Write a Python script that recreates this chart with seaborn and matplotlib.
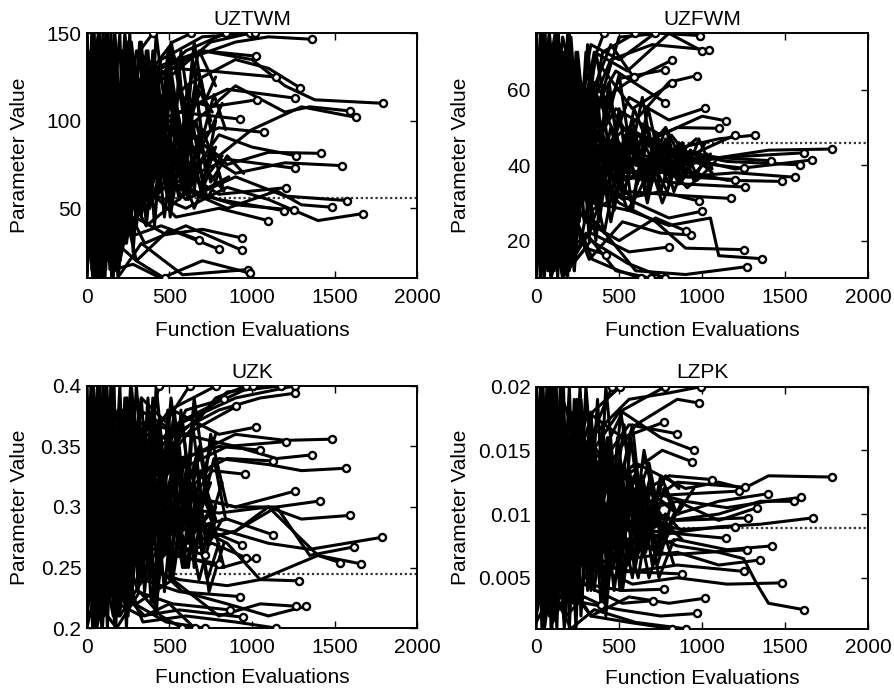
import numpy as np
import pandas as pd
import matplotlib
matplotlib.use("Agg")
import matplotlib.pyplot as plt
import seaborn as sns

# Trajectoires : une liste de x et une liste de y par trajectoire
# (les premières ont leur point final visible ; les suivantes remplissent la masse noire)
uztwm_x = [
    [0, 60, 140, 230, 320, 400], [0, 80, 170, 260, 400, 520, 632], [0, 50, 150, 240, 380, 600, 840],
    [0, 90, 180, 300, 500, 750, 986], [0, 70, 160, 280, 450, 700, 1016],
    [0, 100, 210, 350, 600, 900, 1100, 1364], [0, 60, 150, 270, 450, 700, 1022],
    [0, 80, 190, 320, 520, 800, 1143], [0, 110, 220, 360, 600, 900, 1100, 1289],
    [0, 90, 200, 340, 560, 850, 1258], [0, 70, 180, 300, 500, 750, 1030],
    [0, 100, 230, 400, 700, 1000, 1200, 1380, 1794], [0, 80, 200, 350, 600, 900, 1200, 1350, 1596],
    [0, 60, 170, 300, 500, 800, 1000, 1300, 1628], [0, 90, 200, 330, 550, 925],
    [0, 50, 160, 300, 500, 800, 1073], [0, 100, 210, 360, 600, 850, 1100, 1416],
    [0, 70, 180, 320, 560, 800, 1000, 1269], [0, 110, 230, 380, 650, 900, 1200, 1545],
    [0, 80, 190, 320, 550, 850, 1258], [0, 60, 170, 310, 520, 800, 1208],
    [0, 90, 200, 340, 600, 900, 1200, 1578], [0, 70, 180, 330, 560, 850, 1150, 1300, 1485],
    [0, 100, 220, 360, 620, 900, 1254], [0, 50, 160, 300, 500, 800, 1192],
    [0, 80, 210, 350, 600, 850, 1100, 1400, 1673], [0, 90, 190, 330, 540, 800, 1097],
    [0, 60, 170, 290, 480, 700, 941], [0, 100, 220, 350, 600, 939], [0, 70, 180, 300, 500, 800],
    [0, 80, 190, 300, 450, 677], [0, 90, 200, 330, 580, 976], [0, 60, 160, 280, 450, 700, 986],
    [0, 80, 180, 300, 471],
    [0, 40, 100, 160, 230, 300], [0, 50, 110, 180, 250, 350], [0, 30, 90, 150, 210, 280, 400],
    [0, 60, 120, 190, 260, 340, 480], [0, 45, 110, 170, 240, 320, 450, 600],
    [0, 70, 140, 220, 300, 420, 560, 720], [0, 35, 95, 160, 230, 330, 500, 650],
    [0, 55, 125, 200, 280, 380, 520, 700, 860], [0, 40, 120, 200, 290, 400, 550, 750],
    [0, 25, 55, 85, 115, 145, 180, 215, 250, 290, 340, 400, 470, 540, 620, 700],
    [0, 30, 60, 90, 120, 150, 185, 220, 260, 300, 360, 430, 500, 580, 660, 760],
    [0, 20, 50, 80, 110, 140, 175, 210, 245, 285, 330, 390, 460, 530, 610, 690, 780],
    [0, 35, 70, 100, 130, 165, 200, 235, 275, 320, 380, 450, 520, 600, 680],
    [0, 15, 45, 75, 105, 135, 165, 200, 240, 280, 330, 380, 440, 510, 590, 670, 750],
    [0, 25, 65, 95, 125, 160, 195, 230, 270, 310, 360, 420, 490, 560, 650, 740, 830],
    [0, 40, 80, 120, 160, 200, 240, 280, 320, 370, 430, 500, 580, 660, 750, 850, 950],
    [0, 20, 55, 90, 120, 155, 190, 225, 265, 310, 370, 440, 510, 590, 680, 780],
    [0, 60, 150, 250, 300, 350, 400, 450, 500, 550, 600, 650, 700, 760],
    [0, 80, 170, 260, 310, 360, 410, 460, 510, 560, 610, 660, 720, 780],
    [0, 40, 130, 230, 280, 330, 380, 430, 480, 530, 590, 640, 700, 770, 840],
    [0, 70, 160, 240, 290, 340, 390, 440, 490, 540, 600, 660, 730, 800],
    [0, 50, 140, 220, 270, 320, 370, 420, 470, 520, 570, 630, 690, 750, 820],
    [0, 90, 180, 270, 320, 370, 420, 470, 520, 580, 640, 700, 760, 830],
    [0, 60, 140, 230, 290, 350, 410, 470, 530, 590, 650, 710, 780],
    [0, 75, 165, 255, 305, 355, 405, 455, 505, 555, 615, 675, 740, 820],
]
uztwm_y = [
    [95, 20, 130, 70, 140, 150], [40, 145, 15, 110, 130, 145, 150], [130, 60, 140, 30, 120, 140, 150],
    [20, 120, 50, 140, 125, 145, 150], [110, 10, 100, 80, 135, 148, 150],
    [75, 140, 40, 120, 135, 145, 148, 146.6], [145, 50, 125, 90, 130, 140, 137],
    [30, 130, 70, 110, 130, 128, 125], [100, 25, 135, 95, 120, 135, 130, 119],
    [60, 145, 80, 120, 105, 118, 113], [120, 35, 100, 70, 115, 108, 112],
    [50, 135, 60, 130, 140, 135, 120, 112, 110], [140, 40, 110, 85, 95, 120, 105, 108, 105.6],
    [10, 110, 65, 125, 100, 80, 95, 108, 102], [85, 20, 120, 95, 105, 101],
    [135, 70, 40, 105, 85, 96, 93.4], [25, 105, 140, 70, 95, 75, 82, 81.4],
    [70, 125, 30, 90, 60, 92, 85, 80], [115, 45, 95, 55, 85, 70, 76, 74.4],
    [45, 140, 55, 100, 65, 78, 72.9], [90, 30, 115, 60, 75, 58, 61.8],
    [130, 60, 20, 80, 55, 68, 57, 54.4], [55, 115, 35, 75, 62, 50, 60, 52, 50.6],
    [15, 90, 65, 40, 60, 52, 49], [100, 50, 130, 45, 65, 55, 48.7],
    [80, 20, 90, 60, 50, 62, 55, 43, 47], [140, 70, 25, 65, 45, 50, 43],
    [35, 95, 20, 45, 35, 38, 33], [65, 15, 55, 30, 40, 26], [120, 45, 70, 20, 38, 26.6],
    [20, 60, 40, 35, 40, 32], [50, 25, 12, 30, 12, 15], [25, 70, 15, 18, 10, 20, 13],
    [45, 15, 30, 20, 10],
    [12, 150, 20, 145, 40, 100], [150, 10, 140, 15, 130, 60], [70, 150, 10, 120, 30, 110, 75],
    [150, 40, 150, 10, 90, 130, 85], [30, 120, 10, 150, 50, 110, 70, 90],
    [100, 150, 15, 140, 40, 120, 55, 80], [140, 10, 110, 25, 150, 70, 110, 65],
    [60, 10, 150, 50, 125, 50, 95, 60, 68], [10, 90, 140, 20, 80, 120, 60, 95],
    [80, 140, 20, 130, 15, 150, 30, 140, 40, 120, 60, 130, 80, 110, 70, 95],
    [150, 15, 145, 25, 135, 10, 120, 50, 150, 70, 140, 90, 135, 85, 120, 105],
    [40, 130, 10, 150, 45, 140, 20, 110, 145, 55, 125, 65, 115, 75, 100, 60, 85],
    [120, 10, 100, 150, 20, 110, 150, 35, 90, 145, 50, 100, 140, 95, 115],
    [20, 95, 150, 30, 120, 60, 150, 20, 100, 130, 45, 85, 60, 120, 80, 130, 100],
    [135, 50, 115, 10, 90, 145, 55, 125, 70, 110, 40, 95, 55, 75, 50, 70, 60],
    [60, 150, 40, 100, 10, 80, 130, 25, 75, 140, 60, 120, 70, 100, 65, 80, 70],
    [100, 60, 140, 35, 150, 70, 10, 100, 140, 85, 135, 100, 145, 110, 140, 120],
    [90, 30, 140, 60, 130, 75, 140, 90, 125, 70, 110, 60, 95, 80],
    [50, 140, 20, 120, 50, 110, 40, 100, 55, 130, 80, 120, 70, 100],
    [130, 60, 110, 30, 100, 145, 85, 130, 60, 115, 75, 135, 90, 115, 95],
    [20, 110, 60, 140, 90, 55, 120, 70, 140, 100, 60, 85, 55, 70],
    [110, 15, 80, 50, 145, 100, 60, 150, 110, 80, 140, 100, 125, 95, 110],
    [70, 120, 35, 85, 60, 125, 95, 45, 85, 60, 100, 65, 85, 60],
    [145, 90, 130, 75, 115, 50, 100, 65, 115, 85, 145, 110, 125],
    [35, 75, 125, 45, 80, 120, 65, 105, 45, 75, 55, 90, 70, 80],
]

uzfwm_x = [
    [0, 80, 180, 280, 408], [0, 60, 150, 260, 400, 598], [0, 90, 200, 330, 500, 715],
    [0, 70, 170, 300, 500, 750, 990], [0, 100, 210, 350, 550, 800, 1000],
    [0, 50, 160, 280, 450, 700, 1040], [0, 80, 190, 320, 550, 819], [0, 60, 170, 300, 500, 775],
    [0, 90, 200, 340, 560, 800, 970], [0, 70, 180, 300, 450, 588], [0, 100, 220, 360, 580, 819],
    [0, 60, 170, 290, 480, 779], [0, 80, 190, 330, 560, 800, 1020],
    [0, 50, 150, 280, 480, 750, 1000, 1141], [0, 90, 200, 350, 600, 850, 1100],
    [0, 70, 180, 320, 550, 800, 1100, 1321], [0, 100, 210, 360, 600, 900, 1197],
    [0, 80, 190, 330, 560, 850, 1100, 1400, 1783], [0, 60, 170, 300, 520, 800, 1100, 1616],
    [0, 90, 200, 340, 580, 900, 1200, 1663], [0, 70, 180, 320, 540, 820, 1150, 1592],
    [0, 50, 160, 290, 500, 780, 1100, 1412], [0, 80, 190, 320, 560, 900, 1251],
    [0, 100, 220, 360, 600, 900, 1200, 1562], [0, 60, 170, 300, 520, 850, 1150, 1482],
    [0, 90, 200, 340, 560, 850, 1201], [0, 70, 180, 310, 540, 900, 1261],
    [0, 80, 190, 330, 560, 850, 1171], [0, 60, 170, 300, 520, 750, 980],
    [0, 100, 210, 350, 600, 800, 1000], [0, 80, 190, 320, 520, 750, 930],
    [0, 60, 170, 300, 500, 720, 900], [0, 90, 200, 330, 560, 799],
    [0, 70, 180, 310, 500, 720, 900, 1255], [0, 80, 200, 340, 560, 800, 1050, 1100, 1361],
    [0, 100, 220, 360, 600, 900, 1271], [0, 70, 180, 300, 418], [0, 90, 200, 340, 500, 633],
    [0, 60, 160, 300, 480, 693], [0, 80, 190, 330, 550, 779],
    [0, 40, 100, 160, 230, 300], [0, 50, 110, 170, 240, 320], [0, 35, 90, 150, 220, 300, 420],
    [0, 60, 120, 190, 260, 340, 460, 650], [0, 45, 105, 165, 235, 310, 430, 600, 800],
    [0, 55, 115, 180, 250, 330, 480, 700, 900], [0, 30, 90, 150, 210, 290, 400, 560, 750, 950],
    [0, 40, 100, 170, 250, 340, 460, 620, 820, 1050],
    [0, 25, 55, 85, 115, 145, 180, 215, 250, 290, 340, 400, 470, 540, 620, 700, 800, 900, 1000],
    [0, 30, 60, 90, 120, 150, 185, 220, 260, 300, 360, 430, 500, 580, 660, 760, 860, 960, 1060],
    [0, 20, 50, 80, 110, 140, 175, 210, 245, 285, 330, 390, 460, 530, 610, 690, 780, 880, 980],
    [0, 35, 70, 100, 130, 165, 200, 235, 275, 320, 380, 450, 520, 600, 680, 770, 870, 970, 1080],
    [0, 15, 45, 75, 105, 135, 165, 200, 240, 280, 330, 380, 440, 510, 590, 670, 750, 850],
    [0, 25, 65, 95, 125, 160, 195, 230, 270, 310, 360, 420, 490, 560, 650, 740, 830, 930, 1030],
    [0, 40, 80, 120, 160, 200, 240, 280, 320, 370, 430, 500, 580, 660, 750, 850, 950, 1050],
    [0, 20, 55, 90, 120, 155, 190, 225, 265, 310, 370, 440, 510, 590, 680, 780, 880],
    [0, 60, 150, 250, 320, 390, 460, 530, 600, 670, 740, 810, 880, 960, 1040],
    [0, 80, 170, 260, 330, 400, 470, 540, 610, 680, 750, 820, 900, 980, 1060],
    [0, 40, 130, 230, 300, 370, 440, 510, 580, 650, 720, 790, 860, 940],
    [0, 70, 160, 240, 310, 380, 450, 520, 590, 660, 730, 800, 870, 950, 1030],
    [0, 50, 140, 220, 290, 360, 430, 500, 570, 640, 710, 780, 850, 930],
    [0, 90, 180, 270, 340, 410, 480, 550, 620, 690, 760, 830, 910, 990],
    [0, 60, 140, 230, 300, 370, 440, 510, 580, 650, 720, 790, 860, 940, 1020],
    [0, 75, 165, 255, 325, 395, 465, 535, 605, 675, 745, 815, 885, 965],
]
uzfwm_y = [
    [40, 72, 20, 60, 75], [70, 15, 55, 30, 70, 75], [25, 65, 40, 72, 68, 75],
    [55, 20, 70, 45, 74, 75, 74.4], [15, 60, 35, 70, 65, 75, 70.3],
    [65, 30, 74, 50, 68, 72, 70.6], [45, 75, 25, 55, 62, 67.9], [10, 50, 70, 40, 63, 65.3],
    [72, 35, 60, 25, 50, 62, 63.8], [30, 68, 15, 55, 72, 63.3], [50, 12, 45, 68, 55, 61.7],
    [75, 40, 20, 50, 65, 56.6], [35, 70, 50, 30, 58, 52, 55.2],
    [60, 25, 65, 40, 55, 48, 53, 51.8], [20, 55, 30, 62, 45, 50, 49.8],
    [68, 35, 55, 42, 50, 44, 47, 48], [40, 15, 60, 38, 48, 42, 48],
    [55, 30, 45, 62, 40, 44, 42, 44, 44.3], [12, 45, 70, 35, 45, 40, 42, 43.3],
    [45, 65, 25, 48, 38, 42, 39, 41.4], [30, 50, 40, 55, 36, 44, 41, 40.1],
    [72, 25, 50, 38, 45, 39, 42, 41.2], [50, 18, 42, 52, 38, 41, 39.2],
    [35, 58, 28, 45, 40, 37, 38, 36.8], [62, 40, 20, 42, 36, 39, 36, 35.7],
    [25, 48, 65, 35, 42, 37, 36.2], [42, 12, 38, 30, 37, 35, 34.2],
    [58, 35, 45, 28, 33, 32, 31.2], [18, 40, 25, 38, 31, 33, 30.5],
    [70, 32, 50, 36, 30, 26, 27.8], [38, 20, 30, 15, 25, 22, 21.5],
    [48, 15, 35, 25, 20, 26, 22.6], [28, 45, 18, 22, 17, 18.3],
    [33, 55, 20, 40, 30, 25, 18, 17.6], [40, 22, 45, 30, 28, 24, 26, 16, 15.2],
    [22, 50, 15, 25, 12, 11, 13.1], [60, 20, 12, 18, 16.3], [45, 10, 30, 15, 12, 10],
    [15, 35, 10, 22, 12, 10], [52, 28, 12, 20, 14, 10],
    [10, 75, 15, 70, 12, 50], [75, 10, 72, 12, 65, 40], [40, 75, 10, 60, 15, 70, 42],
    [12, 70, 20, 75, 30, 50, 40, 43], [70, 12, 65, 10, 55, 35, 45, 38, 42],
    [20, 60, 75, 20, 45, 30, 42, 40, 44], [50, 10, 60, 35, 74, 25, 40, 45, 38, 41],
    [30, 65, 12, 48, 70, 30, 46, 36, 44, 39],
    [40, 10, 75, 20, 70, 15, 60, 30, 50, 35, 48, 36, 46, 38, 44, 37, 45, 39, 42],
    [75, 20, 65, 10, 55, 72, 30, 55, 25, 50, 32, 47, 34, 45, 36, 44, 35, 42, 38],
    [20, 70, 30, 75, 12, 60, 40, 70, 28, 55, 40, 30, 46, 33, 45, 35, 47, 36, 43],
    [55, 12, 72, 40, 10, 50, 75, 20, 45, 60, 35, 50, 38, 48, 34, 46, 40, 36, 41],
    [70, 35, 12, 65, 45, 75, 15, 40, 68, 30, 52, 25, 44, 35, 48, 32, 42, 38],
    [30, 75, 45, 15, 70, 25, 55, 12, 62, 38, 20, 45, 32, 50, 36, 47, 33, 44, 40],
    [10, 50, 25, 75, 35, 12, 70, 48, 20, 58, 30, 55, 28, 50, 40, 45, 37, 43],
    [65, 25, 50, 70, 20, 45, 10, 65, 40, 72, 42, 62, 38, 55, 45, 50, 41],
    [45, 20, 60, 35, 50, 30, 47, 33, 45, 30, 44, 36, 46, 38, 42],
    [30, 65, 25, 50, 32, 48, 28, 46, 35, 49, 33, 44, 37, 47, 39],
    [60, 30, 70, 40, 55, 38, 60, 42, 52, 36, 48, 40, 46, 41],
    [15, 55, 35, 62, 30, 45, 25, 40, 50, 32, 42, 35, 45, 36, 43],
    [50, 72, 40, 65, 45, 70, 52, 64, 43, 58, 40, 50, 39, 44],
    [35, 12, 40, 20, 36, 22, 38, 28, 33, 40, 30, 38, 34, 37],
    [70, 45, 25, 55, 38, 28, 44, 36, 30, 46, 39, 33, 44, 40, 46],
    [25, 40, 62, 28, 45, 58, 35, 48, 42, 55, 41, 48, 44, 47],
]

uzk_x = [
    [0, 70, 170, 290, 440], [0, 90, 200, 330, 480, 622], [0, 60, 160, 290, 500, 784],
    [0, 80, 190, 320, 550, 780, 966], [0, 100, 210, 350, 600, 850, 1006],
    [0, 70, 180, 320, 560, 850, 1178], [0, 90, 200, 340, 580, 900, 1259],
    [0, 50, 160, 300, 520, 800, 1050, 1263], [0, 80, 190, 330, 560, 828],
    [0, 100, 210, 350, 600, 905], [0, 60, 170, 300, 520, 800, 1026],
    [0, 90, 200, 340, 600, 900, 1200, 1487], [0, 70, 180, 320, 550, 850, 1208],
    [0, 80, 190, 330, 580, 900, 1150, 1364], [0, 100, 210, 340, 560, 800, 1046],
    [0, 60, 170, 300, 520, 800, 1100, 1300, 1572], [0, 90, 200, 330, 560, 850, 1127],
    [0, 70, 180, 310, 540, 760, 960], [0, 80, 190, 330, 580, 900, 1258],
    [0, 100, 210, 360, 600, 900, 1150, 1414], [0, 60, 160, 290, 500, 800, 1100, 1300, 1592],
    [0, 90, 200, 330, 560, 850, 1100, 1350, 1790], [0, 70, 180, 320, 550, 850, 1127],
    [0, 80, 200, 340, 580, 900, 1150, 1350, 1616], [0, 100, 210, 350, 580, 939],
    [0, 60, 170, 300, 520, 760, 966], [0, 80, 190, 320, 560, 820, 1026],
    [0, 90, 200, 340, 600, 900, 1100, 1250, 1400, 1662], [0, 70, 180, 320, 560, 850, 1050, 1400, 1535],
    [0, 100, 220, 360, 520, 713], [0, 60, 170, 300, 520, 800],
    [0, 80, 190, 330, 560, 850, 1050, 1285], [0, 90, 200, 340, 560, 929],
    [0, 70, 180, 310, 520, 865], [0, 100, 210, 350, 580, 850, 1100, 1325],
    [0, 60, 170, 300, 520, 800, 1050, 1269], [0, 80, 190, 330, 560, 945],
    [0, 90, 200, 340, 600, 900, 1147], [0, 70, 180, 320, 450, 578], [0, 100, 210, 350, 500, 653],
    [0, 60, 160, 290, 480, 713],
    [0, 40, 100, 160, 230, 300], [0, 50, 110, 180, 250, 340], [0, 35, 95, 155, 220, 300, 420, 600],
    [0, 55, 120, 190, 260, 340, 460, 650], [0, 45, 105, 170, 240, 320, 440, 600, 780],
    [0, 30, 90, 150, 210, 290, 400, 560, 720],
    [0, 25, 55, 85, 115, 145, 180, 215, 250, 290, 340, 400, 470, 540, 620, 700],
    [0, 30, 60, 90, 120, 150, 185, 220, 260, 300, 360, 430, 500, 580, 660, 760],
    [0, 20, 50, 80, 110, 140, 175, 210, 245, 285, 330, 390, 460, 530, 610, 690, 780],
    [0, 35, 70, 100, 130, 165, 200, 235, 275, 320, 380, 450, 520, 600, 680, 770],
    [0, 15, 45, 75, 105, 135, 165, 200, 240, 280, 330, 380, 440, 510, 590, 670, 750],
    [0, 25, 65, 95, 125, 160, 195, 230, 270, 310, 360, 420, 490, 560, 650, 740, 830],
    [0, 40, 80, 120, 160, 200, 240, 280, 320, 370, 430, 500, 580, 660, 750, 850],
    [0, 20, 55, 90, 120, 155, 190, 225, 265, 310, 370, 440, 510, 590, 680, 780],
    [0, 60, 150, 250, 300, 350, 400, 450, 500, 550, 600, 650, 700, 760],
    [0, 80, 170, 260, 310, 360, 410, 460, 510, 560, 610, 660, 720, 780],
    [0, 40, 130, 230, 280, 330, 380, 430, 480, 530, 590, 640, 700, 770, 840],
    [0, 70, 160, 240, 290, 340, 390, 440, 490, 540, 600, 660, 730, 800],
    [0, 50, 140, 220, 270, 320, 370, 420, 470, 520, 570, 630, 690, 750, 820],
    [0, 90, 180, 270, 320, 370, 420, 470, 520, 580, 640, 700, 760, 830],
    [0, 60, 140, 230, 290, 350, 410, 470, 530, 590, 650, 710, 780],
    [0, 75, 165, 255, 305, 355, 405, 455, 505, 555, 615, 675, 740, 820],
]
uzk_y = [
    [0.30, 0.22, 0.38, 0.33, 0.40], [0.22, 0.36, 0.25, 0.39, 0.37, 0.40],
    [0.37, 0.28, 0.21, 0.34, 0.38, 0.40], [0.26, 0.39, 0.30, 0.37, 0.35, 0.39, 0.40],
    [0.34, 0.24, 0.36, 0.31, 0.38, 0.39, 0.40], [0.21, 0.33, 0.27, 0.38, 0.36, 0.395, 0.40],
    [0.39, 0.30, 0.35, 0.29, 0.37, 0.39, 0.40], [0.28, 0.37, 0.23, 0.33, 0.36, 0.38, 0.39, 0.394],
    [0.24, 0.32, 0.38, 0.34, 0.37, 0.389], [0.36, 0.21, 0.31, 0.37, 0.36, 0.383],
    [0.31, 0.39, 0.26, 0.35, 0.38, 0.36, 0.366], [0.23, 0.30, 0.37, 0.32, 0.34, 0.36, 0.355, 0.356],
    [0.38, 0.27, 0.33, 0.36, 0.33, 0.35, 0.354], [0.27, 0.35, 0.22, 0.32, 0.36, 0.35, 0.34, 0.343],
    [0.33, 0.25, 0.38, 0.30, 0.34, 0.35, 0.347],
    [0.36, 0.28, 0.31, 0.35, 0.30, 0.34, 0.335, 0.33, 0.332],
    [0.21, 0.31, 0.27, 0.36, 0.32, 0.34, 0.338], [0.39, 0.30, 0.24, 0.33, 0.29, 0.33, 0.327],
    [0.29, 0.38, 0.30, 0.27, 0.31, 0.30, 0.313], [0.25, 0.32, 0.36, 0.29, 0.31, 0.30, 0.30, 0.305],
    [0.35, 0.22, 0.30, 0.28, 0.30, 0.295, 0.30, 0.29, 0.293],
    [0.32, 0.26, 0.34, 0.28, 0.29, 0.28, 0.27, 0.265, 0.275],
    [0.27, 0.36, 0.23, 0.30, 0.28, 0.29, 0.277],
    [0.37, 0.29, 0.24, 0.31, 0.27, 0.28, 0.30, 0.26, 0.267],
    [0.22, 0.33, 0.28, 0.25, 0.29, 0.269], [0.30, 0.24, 0.35, 0.27, 0.26, 0.27, 0.258],
    [0.34, 0.28, 0.21, 0.29, 0.26, 0.25, 0.258],
    [0.28, 0.36, 0.26, 0.31, 0.27, 0.28, 0.30, 0.28, 0.26, 0.253],
    [0.24, 0.31, 0.27, 0.33, 0.29, 0.27, 0.24, 0.26, 0.254],
    [0.36, 0.27, 0.31, 0.24, 0.27, 0.26], [0.21, 0.29, 0.25, 0.28, 0.26, 0.253],
    [0.29, 0.23, 0.32, 0.25, 0.24, 0.235, 0.24, 0.239], [0.33, 0.25, 0.21, 0.24, 0.23, 0.226],
    [0.26, 0.22, 0.29, 0.23, 0.22, 0.215], [0.38, 0.28, 0.24, 0.26, 0.23, 0.22, 0.21, 0.218],
    [0.25, 0.20, 0.27, 0.22, 0.24, 0.21, 0.22, 0.218], [0.23, 0.30, 0.22, 0.21, 0.215, 0.209],
    [0.27, 0.21, 0.25, 0.205, 0.21, 0.205, 0.20], [0.31, 0.22, 0.20, 0.23, 0.21, 0.20],
    [0.20, 0.26, 0.23, 0.21, 0.22, 0.20], [0.29, 0.21, 0.24, 0.22, 0.205, 0.20],
    [0.20, 0.40, 0.21, 0.39, 0.22, 0.33], [0.40, 0.20, 0.38, 0.21, 0.36, 0.27],
    [0.30, 0.40, 0.20, 0.37, 0.23, 0.35, 0.28, 0.30], [0.21, 0.36, 0.40, 0.22, 0.32, 0.26, 0.31, 0.29],
    [0.38, 0.21, 0.33, 0.20, 0.36, 0.25, 0.32, 0.27, 0.30],
    [0.25, 0.39, 0.22, 0.40, 0.27, 0.34, 0.24, 0.31, 0.28],
    [0.30, 0.40, 0.20, 0.38, 0.22, 0.40, 0.25, 0.36, 0.21, 0.33, 0.26, 0.37, 0.28, 0.34, 0.27, 0.31],
    [0.40, 0.22, 0.37, 0.20, 0.35, 0.39, 0.24, 0.38, 0.29, 0.40, 0.30, 0.36, 0.25, 0.32, 0.28, 0.30],
    [0.24, 0.36, 0.21, 0.40, 0.27, 0.33, 0.20, 0.31, 0.39, 0.26, 0.35, 0.22, 0.30, 0.38, 0.27, 0.33, 0.29],
    [0.36, 0.20, 0.32, 0.40, 0.23, 0.30, 0.40, 0.27, 0.23, 0.37, 0.25, 0.33, 0.24, 0.31, 0.35, 0.28],
    [0.21, 0.31, 0.39, 0.23, 0.37, 0.28, 0.40, 0.21, 0.32, 0.38, 0.24, 0.29, 0.36, 0.26, 0.34, 0.29, 0.32],
    [0.33, 0.25, 0.40, 0.30, 0.20, 0.36, 0.27, 0.39, 0.22, 0.30, 0.34, 0.21, 0.35, 0.27, 0.32, 0.23, 0.27],
    [0.27, 0.40, 0.29, 0.21, 0.38, 0.33, 0.20, 0.35, 0.28, 0.39, 0.23, 0.32, 0.37, 0.26, 0.36, 0.30],
    [0.38, 0.29, 0.22, 0.34, 0.40, 0.25, 0.37, 0.30, 0.40, 0.23, 0.34, 0.27, 0.39, 0.30, 0.24, 0.29],
    [0.30, 0.22, 0.38, 0.26, 0.35, 0.28, 0.39, 0.30, 0.36, 0.27, 0.33, 0.25, 0.31, 0.29],
    [0.25, 0.37, 0.21, 0.33, 0.24, 0.32, 0.22, 0.30, 0.25, 0.35, 0.28, 0.34, 0.27, 0.30],
    [0.37, 0.27, 0.34, 0.22, 0.31, 0.39, 0.29, 0.37, 0.27, 0.33, 0.25, 0.37, 0.30, 0.34, 0.29],
    [0.21, 0.32, 0.27, 0.39, 0.30, 0.24, 0.34, 0.26, 0.38, 0.31, 0.25, 0.29, 0.24, 0.27],
    [0.33, 0.20, 0.30, 0.25, 0.40, 0.32, 0.26, 0.40, 0.33, 0.28, 0.38, 0.31, 0.35, 0.29, 0.32],
    [0.28, 0.36, 0.22, 0.30, 0.26, 0.35, 0.31, 0.23, 0.30, 0.25, 0.32, 0.26, 0.29, 0.25],
    [0.39, 0.30, 0.36, 0.27, 0.34, 0.23, 0.32, 0.26, 0.35, 0.29, 0.39, 0.33, 0.36],
    [0.23, 0.28, 0.37, 0.24, 0.29, 0.36, 0.27, 0.33, 0.24, 0.28, 0.25, 0.31, 0.27, 0.29],
]

lzpk_x = [
    [0, 70, 170, 300, 458], [0, 90, 200, 340, 508], [0, 60, 160, 290, 500, 779],
    [0, 80, 190, 330, 560, 800, 996], [0, 100, 210, 350, 600, 850, 984],
    [0, 70, 180, 310, 520, 769], [0, 90, 200, 340, 560, 849], [0, 60, 170, 300, 520, 750, 950],
    [0, 80, 190, 320, 540, 760, 940], [0, 100, 210, 350, 600, 900, 1100, 1250, 1400, 1783],
    [0, 70, 180, 320, 550, 800, 1060], [0, 90, 200, 340, 580, 850, 1257],
    [0, 60, 170, 300, 520, 800, 1221], [0, 80, 190, 330, 560, 850, 1100, 1398],
    [0, 100, 210, 350, 600, 900, 1150, 1400, 1598], [0, 70, 180, 310, 540, 820, 1100, 1350, 1552],
    [0, 90, 200, 330, 560, 850, 1100, 1331], [0, 60, 170, 300, 520, 800, 1100, 1350, 1668],
    [0, 80, 190, 320, 550, 850, 1277], [0, 100, 210, 340, 580, 880, 1201],
    [0, 70, 180, 310, 530, 820, 1141], [0, 90, 200, 340, 580, 850, 1150, 1418],
    [0, 60, 170, 300, 520, 800, 1271], [0, 80, 190, 330, 560, 850, 1100, 1351],
    [0, 100, 210, 350, 580, 850, 1251], [0, 70, 180, 310, 520, 879],
    [0, 90, 200, 340, 580, 850, 1150, 1482], [0, 60, 170, 300, 520, 769],
    [0, 80, 190, 330, 560, 800, 1020], [0, 100, 220, 360, 520, 703], [0, 70, 180, 290, 388],
    [0, 90, 200, 340, 580, 850, 1100, 1250, 1330, 1400, 1612], [0, 60, 170, 300, 500, 750, 968],
    [0, 80, 190, 330, 560, 819], [0, 100, 210, 350, 600, 900],
    [0, 40, 100, 160, 230, 300], [0, 50, 110, 180, 250, 340], [0, 35, 95, 155, 220, 300, 420, 600],
    [0, 55, 120, 190, 260, 340, 460, 650], [0, 45, 105, 170, 240, 320, 440, 600, 780],
    [0, 30, 90, 150, 210, 290, 400, 560, 720],
    [0, 25, 55, 85, 115, 145, 180, 215, 250, 290, 340, 400, 470, 540, 620, 700, 800],
    [0, 30, 60, 90, 120, 150, 185, 220, 260, 300, 360, 430, 500, 580, 660, 760, 860],
    [0, 20, 50, 80, 110, 140, 175, 210, 245, 285, 330, 390, 460, 530, 610, 690, 780],
    [0, 35, 70, 100, 130, 165, 200, 235, 275, 320, 380, 450, 520, 600, 680, 770, 880],
    [0, 15, 45, 75, 105, 135, 165, 200, 240, 280, 330, 380, 440, 510, 590, 670, 750],
    [0, 25, 65, 95, 125, 160, 195, 230, 270, 310, 360, 420, 490, 560, 650, 740, 830],
    [0, 40, 80, 120, 160, 200, 240, 280, 320, 370, 430, 500, 580, 660, 750, 850, 950],
    [0, 20, 55, 90, 120, 155, 190, 225, 265, 310, 370, 440, 510, 590, 680, 780],
    [0, 60, 150, 250, 300, 350, 400, 450, 500, 550, 600, 650, 700, 760, 830],
    [0, 80, 170, 260, 310, 360, 410, 460, 510, 560, 610, 660, 720, 780, 850],
    [0, 40, 130, 230, 280, 330, 380, 430, 480, 530, 590, 640, 700, 770, 840],
    [0, 70, 160, 240, 290, 340, 390, 440, 490, 540, 600, 660, 730, 800, 880],
    [0, 50, 140, 220, 270, 320, 370, 420, 470, 520, 570, 630, 690, 750, 820],
    [0, 90, 180, 270, 320, 370, 420, 470, 520, 580, 640, 700, 760, 830],
    [0, 60, 140, 230, 290, 350, 410, 470, 530, 590, 650, 710, 780, 860],
    [0, 75, 165, 255, 305, 355, 405, 455, 505, 555, 615, 675, 740, 820],
]
lzpk_y = [
    [0.010, 0.017, 0.006, 0.015, 0.020], [0.016, 0.005, 0.012, 0.018, 0.020],
    [0.004, 0.013, 0.019, 0.014, 0.018, 0.020], [0.012, 0.019, 0.009, 0.016, 0.019, 0.0195, 0.020],
    [0.019, 0.008, 0.015, 0.012, 0.017, 0.019, 0.0187], [0.007, 0.015, 0.011, 0.018, 0.016, 0.0172],
    [0.014, 0.020, 0.010, 0.013, 0.017, 0.0163], [0.009, 0.003, 0.016, 0.012, 0.018, 0.016, 0.0150],
    [0.018, 0.012, 0.007, 0.015, 0.013, 0.015, 0.0141],
    [0.005, 0.013, 0.017, 0.011, 0.014, 0.012, 0.0125, 0.012, 0.013, 0.0129],
    [0.015, 0.006, 0.012, 0.016, 0.011, 0.013, 0.0127], [0.011, 0.018, 0.008, 0.013, 0.010, 0.0125, 0.0121],
    [0.020, 0.010, 0.014, 0.009, 0.012, 0.0115, 0.0118],
    [0.008, 0.014, 0.005, 0.011, 0.013, 0.010, 0.011, 0.0116],
    [0.013, 0.007, 0.015, 0.010, 0.012, 0.011, 0.0105, 0.011, 0.0113],
    [0.003, 0.010, 0.012, 0.008, 0.011, 0.0095, 0.010, 0.011, 0.0110],
    [0.017, 0.009, 0.011, 0.014, 0.010, 0.011, 0.0095, 0.0105],
    [0.010, 0.016, 0.006, 0.012, 0.009, 0.0085, 0.009, 0.0092, 0.0097],
    [0.006, 0.011, 0.014, 0.009, 0.010, 0.0095, 0.0097], [0.015, 0.004, 0.010, 0.008, 0.0095, 0.0088, 0.0090],
    [0.009, 0.013, 0.007, 0.010, 0.008, 0.0085, 0.0081],
    [0.012, 0.005, 0.009, 0.011, 0.007, 0.008, 0.0072, 0.0075],
    [0.004, 0.009, 0.012, 0.007, 0.008, 0.0068, 0.0072],
    [0.016, 0.010, 0.006, 0.009, 0.0065, 0.007, 0.006, 0.0064],
    [0.007, 0.002, 0.008, 0.006, 0.0055, 0.006, 0.0055], [0.011, 0.006, 0.004, 0.007, 0.0055, 0.0053],
    [0.005, 0.009, 0.003, 0.006, 0.0045, 0.005, 0.0045, 0.0046],
    [0.008, 0.003, 0.006, 0.0045, 0.004, 0.0041], [0.003, 0.007, 0.005, 0.002, 0.0035, 0.003, 0.0034],
    [0.006, 0.0015, 0.005, 0.004, 0.003, 0.0032], [0.009, 0.004, 0.002, 0.0035, 0.0029],
    [0.013, 0.008, 0.011, 0.007, 0.009, 0.0075, 0.007, 0.0065, 0.0045, 0.003, 0.0025],
    [0.002, 0.006, 0.0035, 0.003, 0.0025, 0.002, 0.0022], [0.005, 0.002, 0.0045, 0.002, 0.0015, 0.001],
    [0.0015, 0.004, 0.001, 0.0025, 0.0015, 0.001],
    [0.001, 0.020, 0.002, 0.019, 0.004, 0.012], [0.020, 0.001, 0.018, 0.003, 0.017, 0.009],
    [0.012, 0.020, 0.001, 0.017, 0.003, 0.015, 0.008, 0.011],
    [0.002, 0.016, 0.020, 0.004, 0.013, 0.006, 0.012, 0.009],
    [0.018, 0.002, 0.014, 0.001, 0.016, 0.006, 0.013, 0.008, 0.010],
    [0.006, 0.019, 0.003, 0.020, 0.008, 0.014, 0.005, 0.011, 0.009],
    [0.010, 0.020, 0.002, 0.018, 0.004, 0.020, 0.007, 0.016, 0.003, 0.013, 0.006, 0.015, 0.008, 0.012, 0.007, 0.011, 0.009],
    [0.020, 0.004, 0.017, 0.001, 0.015, 0.019, 0.005, 0.018, 0.009, 0.020, 0.010, 0.016, 0.006, 0.012, 0.008, 0.011, 0.010],
    [0.005, 0.016, 0.001, 0.020, 0.008, 0.013, 0.002, 0.011, 0.019, 0.006, 0.015, 0.003, 0.010, 0.017, 0.007, 0.012, 0.008],
    [0.016, 0.001, 0.012, 0.020, 0.003, 0.010, 0.020, 0.007, 0.003, 0.017, 0.005, 0.013, 0.004, 0.011, 0.014, 0.008, 0.011],
    [0.002, 0.011, 0.019, 0.003, 0.017, 0.008, 0.020, 0.001, 0.012, 0.018, 0.004, 0.009, 0.016, 0.006, 0.013, 0.009, 0.012],
    [0.013, 0.005, 0.020, 0.010, 0.001, 0.016, 0.007, 0.019, 0.002, 0.010, 0.014, 0.002, 0.013, 0.006, 0.012, 0.005, 0.008],
    [0.007, 0.020, 0.009, 0.002, 0.018, 0.013, 0.001, 0.015, 0.008, 0.019, 0.004, 0.012, 0.017, 0.007, 0.013, 0.010, 0.012],
    [0.018, 0.009, 0.003, 0.014, 0.020, 0.006, 0.017, 0.010, 0.020, 0.004, 0.014, 0.008, 0.018, 0.011, 0.005, 0.009],
    [0.010, 0.004, 0.016, 0.006, 0.013, 0.007, 0.017, 0.010, 0.014, 0.006, 0.012, 0.007, 0.011, 0.008, 0.010],
    [0.006, 0.015, 0.002, 0.012, 0.005, 0.011, 0.003, 0.010, 0.005, 0.013, 0.008, 0.012, 0.007, 0.010, 0.009],
    [0.015, 0.008, 0.013, 0.004, 0.010, 0.018, 0.009, 0.015, 0.007, 0.012, 0.006, 0.013, 0.009, 0.012, 0.010],
    [0.003, 0.011, 0.007, 0.018, 0.011, 0.005, 0.013, 0.006, 0.016, 0.011, 0.006, 0.010, 0.006, 0.009, 0.008],
    [0.012, 0.001, 0.010, 0.006, 0.019, 0.012, 0.007, 0.020, 0.013, 0.008, 0.016, 0.010, 0.013, 0.008, 0.011],
    [0.008, 0.014, 0.003, 0.009, 0.006, 0.013, 0.010, 0.004, 0.009, 0.005, 0.011, 0.006, 0.009, 0.006],
    [0.018, 0.010, 0.015, 0.007, 0.012, 0.004, 0.011, 0.006, 0.014, 0.009, 0.015, 0.011, 0.013, 0.012],
    [0.004, 0.008, 0.016, 0.005, 0.009, 0.015, 0.007, 0.012, 0.004, 0.008, 0.005, 0.010, 0.007, 0.009],
]

# Nombre de trajectoires dont le point final est visible (cercle)
n_marked = [34, 40, 41, 35]

# Valeurs "vraies" (ligne pointillée)
true_values = {"UZTWM": 56, "UZFWM": 45.8, "UZK": 0.245, "LZPK": 0.0089}

titles = ["UZTWM", "UZFWM", "UZK", "LZPK"]
all_x = [uztwm_x, uzfwm_x, uzk_x, lzpk_x]
all_y = [uztwm_y, uzfwm_y, uzk_y, lzpk_y]
ylims = [(10, 150), (10, 75), (0.2, 0.4), (0.001, 0.02)]
yticks = [[50, 100, 150], [20, 40, 60], [0.2, 0.25, 0.3, 0.35, 0.4], [0.005, 0.01, 0.015, 0.02]]
yticklabels = [["50", "100", "150"], ["20", "40", "60"],
               ["0.2", "0.25", "0.3", "0.35", "0.4"], ["0.005", "0.01", "0.015", "0.02"]]

sns.set_style("ticks")
plt.rcParams['font.family'] = ['Liberation Sans', 'DejaVu Sans']
plt.rcParams['text.color'] = 'black'
plt.rcParams['axes.labelcolor'] = 'black'
plt.rcParams['xtick.color'] = 'black'
plt.rcParams['ytick.color'] = 'black'

fig = plt.figure(figsize=(8.95, 6.94), dpi=100)
positions = [
    [0.097, 0.599, 0.369, 0.353],
    [0.599, 0.599, 0.371, 0.353],
    [0.097, 0.095, 0.369, 0.349],
    [0.599, 0.094, 0.371, 0.349],
]
ylabel_x = [-0.176, -0.199, -0.176, -0.199]
xlabel_y = [-0.176, -0.176, -0.165, -0.165]

for i, name in enumerate(titles):
    ax = fig.add_axes(positions[i])
    rows = []
    ends = []
    for k, (xs, ys) in enumerate(zip(all_x[i], all_y[i])):
        for step, (xv, yv) in enumerate(zip(xs, ys)):
            rows.append({"traj": k, "step": step, "x": xv, "y": yv})
        if k < n_marked[i]:
            ends.append({"x": xs[-1], "y": ys[-1]})
    df = pd.DataFrame(rows)
    df_end = pd.DataFrame(ends)

    ax.plot([0, 2000], [true_values[name]] * 2, linestyle=(0, (1, 1.2)), color="#333333",
            lw=1.6, zorder=1)
    sns.lineplot(data=df, x="x", y="y", units="traj", estimator=None, sort=False,
                 color="black", lw=2.2, ax=ax, zorder=2, legend=False)
    sns.scatterplot(data=df_end, x="x", y="y", marker="o", s=26, facecolor="white",
                    edgecolor="black", linewidth=1.7, ax=ax, zorder=3, legend=False)

    ax.set_xlim(0, 2000)
    ax.set_ylim(*ylims[i])
    ax.set_xticks([0, 500, 1000, 1500, 2000])
    ax.set_yticks(yticks[i])
    ax.set_yticklabels(yticklabels[i])
    ax.tick_params(direction="in", top=True, right=True, labelsize=15, length=5, width=1)
    ax.tick_params(axis="x", pad=7)
    ax.tick_params(axis="y", pad=4)
    for sp in ax.spines.values():
        sp.set_visible(True)
        sp.set_linewidth(1.4)
        sp.set_color("black")
    ax.set_title(name, fontsize=15, pad=6)
    ax.set_xlabel("Function Evaluations", fontsize=15)
    ax.set_ylabel("Parameter Value", fontsize=15)
    ax.xaxis.set_label_coords(0.5, xlabel_y[i])
    ax.yaxis.set_label_coords(ylabel_x[i], 0.5)

plt.savefig("out.png", dpi=100)
